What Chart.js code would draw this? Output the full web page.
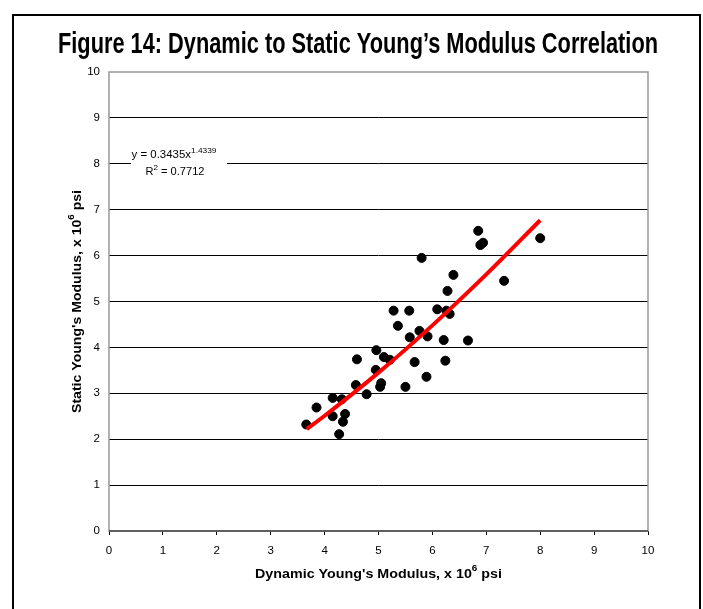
<!DOCTYPE html>
<html lang="en">
<head>
  <meta charset="UTF-8">
  <title>Figure 14: Dynamic to Static Young's Modulus Correlation</title>
  <script src="https://cdn.jsdelivr.net/npm/chart.js"></script>
  <style>
    html, body { margin: 0; padding: 0; background: #fff; }
    #wrap { width: 703px; height: 609px; }
  </style>
</head>
<body>
  <div id="wrap"><canvas id="ymChart" width="703" height="609"></canvas></div>

  <script>
    // measured points (dynamic vs static modulus, x10^6 psi)
    const dynamicE = [3.66, 3.85, 4.15, 4.15, 4.32, 4.38, 4.34, 4.27, 4.58, 4.60,
                      4.78, 4.96, 4.95, 5.10, 5.21, 5.05, 5.03, 5.28, 5.36, 5.57,
                      5.58, 5.67, 5.50, 5.76, 5.80, 5.91, 5.89, 6.09, 6.32, 6.26,
                      6.21, 6.24, 6.28, 6.39, 6.66, 6.85, 6.89, 6.94, 7.33, 8.00];
    const staticE  = [2.32, 2.69, 2.90, 2.50, 2.87, 2.55, 2.38, 2.11, 3.18, 3.74,
                      2.98, 3.94, 3.51, 3.79, 3.73, 3.22, 3.14, 4.80, 4.47, 4.80,
                      4.22, 3.68, 3.14, 4.36, 5.95, 4.24, 3.36, 4.83, 4.73, 4.80,
                      4.16, 3.71, 5.23, 5.58, 4.15, 6.54, 6.23, 6.28, 5.45, 6.38];

    // power trendline
    const trendX = [3.67, 4, 5, 6, 7, 8];
    const trendY = [2.22, 2.51, 3.45, 4.48, 5.59, 6.77];

    const axisTicks = [0, 1, 2, 3, 4, 5, 6, 7, 8, 9, 10];

    const points = dynamicE.map((x, i) => ({ x: x, y: staticE[i] }));
    const trend = trendX.map((x, i) => ({ x: x, y: trendY[i] }));

    // draws text with superscript pieces, centred on cx; optional target width squeezes it
    function supText(ctx, parts, cx, cy, size, weight, fitW) {
      const base = weight + ' ' + size + 'px "Liberation Sans", Arial, sans-serif';
      const small = weight + ' ' + Math.round(size * 0.7) + 'px "Liberation Sans", Arial, sans-serif';
      let w = 0;
      parts.forEach(p => { ctx.font = p.sup ? small : base; w += ctx.measureText(p.t).width; });
      const k = fitW ? fitW / w : 1;
      ctx.save();
      ctx.translate(cx, cy);
      ctx.scale(k, 1);
      let x = -w / 2;
      ctx.textAlign = 'left';
      ctx.textBaseline = 'middle';
      parts.forEach(p => {
        ctx.font = p.sup ? small : base;
        ctx.fillText(p.t, x, p.sup ? -size * 0.4 : 0);
        x += ctx.measureText(p.t).width;
      });
      ctx.restore();
    }

    const decor = {
      id: 'decor',
      beforeDatasetsDraw(chart) {
        const ctx = chart.ctx, a = chart.chartArea;
        ctx.save();
        // plot border
        ctx.strokeStyle = '#999';
        ctx.lineWidth = 1.5;
        ctx.strokeRect(a.left, a.top, a.right - a.left, a.bottom - a.top);
        ctx.strokeStyle = '#444';
        ctx.beginPath();
        ctx.moveTo(a.left, a.bottom); ctx.lineTo(a.right, a.bottom);
        ctx.stroke();
        // equation label
        ctx.fillStyle = '#fff';
        ctx.fillRect(131, 142, 96, 42);
        ctx.fillStyle = '#000';
        supText(ctx, [{ t: 'y = 0.3435x' }, { t: '1.4339', sup: true }], 174, 155, 11, 'normal', 85);
        supText(ctx, [{ t: 'R' }, { t: '2', sup: true }, { t: ' = 0.7712' }], 175, 172, 11, 'normal', 59);
        ctx.restore();
      },
      afterDraw(chart) {
        const ctx = chart.ctx, a = chart.chartArea;
        ctx.save();
        // outer frame
        ctx.strokeStyle = '#000';
        ctx.lineWidth = 2;
        ctx.beginPath();
        ctx.moveTo(13, 620); ctx.lineTo(13, 15); ctx.lineTo(700, 15); ctx.lineTo(700, 620);
        ctx.stroke();
        // title, condensed to the width used in the figure
        const title = 'Figure 14: Dynamic to Static Young\u2019s Modulus Correlation';
        ctx.fillStyle = '#000';
        ctx.font = 'bold 30px "Liberation Sans Narrow", "Arial Narrow", "Liberation Sans", sans-serif';
        const tw = ctx.measureText(title).width;
        ctx.save();
        ctx.translate(358, 53);
        ctx.scale(600 / tw, 1);
        ctx.textAlign = 'center';
        ctx.textBaseline = 'alphabetic';
        ctx.fillText(title, 0, 0);
        ctx.restore();
        // axis titles
        supText(ctx, [{ t: 'Dynamic Young\'s Modulus, x 10' }, { t: '6', sup: true }, { t: ' psi' }],
                (a.left + a.right) / 2, 574, 13, 'bold', 247);
        ctx.translate(77, (a.top + a.bottom) / 2);
        ctx.rotate(-Math.PI / 2);
        supText(ctx, [{ t: 'Static Young\'s Modulus, x 10' }, { t: '6', sup: true }, { t: ' psi' }],
                0, 0, 13, 'bold', 223);
        ctx.restore();
      }
    };

    new Chart(document.getElementById('ymChart').getContext('2d'), {
      type: 'scatter',
      data: {
        datasets: [
          {
            type: 'line', label: 'Power trend', data: trend,
            borderColor: '#ff0000', borderWidth: 4, pointRadius: 0,
            cubicInterpolationMode: 'monotone', fill: false
          },
          {
            label: 'Measured', data: points,
            backgroundColor: '#000', borderColor: '#000',
            pointRadius: 4.5, pointHoverRadius: 4.5
          }
        ]
      },
      options: {
        responsive: false,
        devicePixelRatio: 1,
        animation: false,
        layout: { padding: { top: 72, right: 55, left: 0, bottom: 0 } },
        plugins: { legend: { display: false }, tooltip: { enabled: false }, title: { display: false } },
        scales: {
          x: {
            type: 'linear', min: 0, max: 10,
            afterFit(s) { s.height = 78; },
            afterBuildTicks(s) { s.ticks = axisTicks.map(v => ({ value: v })); },
            grid: { drawOnChartArea: false, drawTicks: true, tickLength: 4, color: '#000' },
            border: { display: false },
            ticks: { padding: 9, color: '#000', font: { family: '"Liberation Sans", Arial', size: 11.5 } }
          },
          y: {
            type: 'linear', min: 0, max: 10,
            afterFit(s) { s.width = 109; },
            afterBuildTicks(s) { s.ticks = axisTicks.map(v => ({ value: v })); },
            grid: {
              drawTicks: false,
              color: c => (c.tick && (c.tick.value === 10 || c.tick.value === 0)) ? 'rgba(0,0,0,0)' : '#000',
              lineWidth: 1
            },
            border: { display: false },
            ticks: { padding: 9, color: '#000', font: { family: '"Liberation Sans", Arial', size: 11.5 } }
          }
        }
      },
      plugins: [decor]
    });
  </script>
</body>
</html>
